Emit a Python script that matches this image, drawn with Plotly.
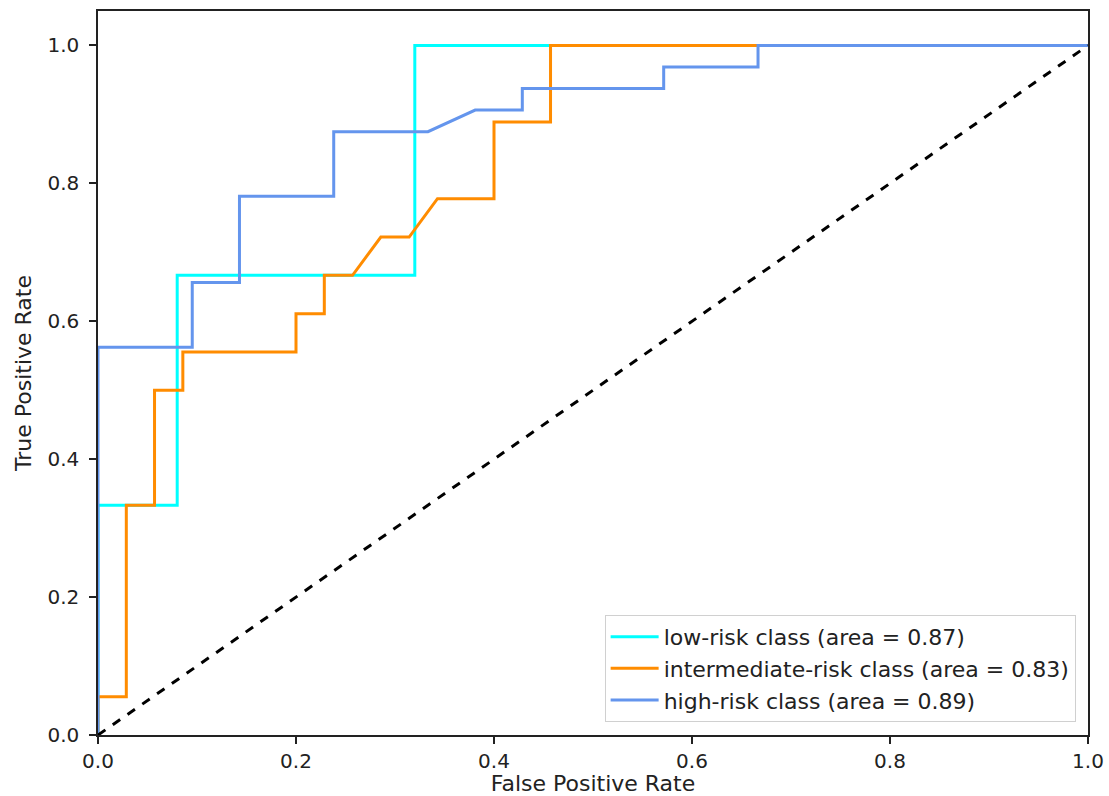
import plotly.graph_objects as go

# Low-risk class ROC
low_fpr = [0.0, 0.0, 0.08, 0.08, 0.32, 0.32, 1.0]
low_tpr = [0.0, 0.3333, 0.3333, 0.6667, 0.6667, 1.0, 1.0]

# Intermediate-risk class ROC
mid_fpr = [0.0, 0.0, 0.0286, 0.0286, 0.0571, 0.0571, 0.0857, 0.0857, 0.2, 0.2,
           0.2286, 0.2286, 0.2571, 0.2857, 0.3143, 0.3429, 0.4, 0.4, 0.4571, 0.4571, 1.0]
mid_tpr = [0.0, 0.0556, 0.0556, 0.3333, 0.3333, 0.5, 0.5, 0.5556, 0.5556, 0.6111,
           0.6111, 0.6667, 0.6667, 0.7222, 0.7222, 0.7778, 0.7778, 0.8889, 0.8889, 1.0, 1.0]

# High-risk class ROC
high_fpr = [0.0, 0.0, 0.0952, 0.0952, 0.1429, 0.1429, 0.2381, 0.2381, 0.3333, 0.381,
            0.4286, 0.4286, 0.5714, 0.5714, 0.6667, 0.6667, 1.0]
high_tpr = [0.0, 0.5625, 0.5625, 0.6563, 0.6563, 0.7813, 0.7813, 0.875, 0.875, 0.9063,
            0.9063, 0.9375, 0.9375, 0.9688, 0.9688, 1.0, 1.0]

chance = [0.0, 1.0]

tick_vals = [0, 0.2, 0.4, 0.6, 0.8, 1.0]
tick_text = ["0.0", "0.2", "0.4", "0.6", "0.8", "1.0"]

names = ["low-risk class (area = 0.87)",
         "intermediate-risk class (area = 0.83)",
         "high-risk class (area = 0.89)"]
colors = ["#00ffff", "#ff8c00", "#6495ed"]

fig = go.Figure()
for fx, ty, nm, c in zip([low_fpr, mid_fpr, high_fpr], [low_tpr, mid_tpr, high_tpr], names, colors):
    fig.add_trace(go.Scatter(x=fx, y=ty, mode="lines", name=nm,
                             line=dict(color=c, width=3)))
fig.add_trace(go.Scatter(x=chance, y=chance, mode="lines", showlegend=False,
                         line=dict(color="black", width=3, dash="dash")))

font = "DejaVu Sans"
txt = "#222222"
axis_common = dict(showgrid=False, zeroline=False, showline=True, linecolor=txt,
                   linewidth=1.5, mirror=True, ticks="outside", ticklen=7, tickwidth=1.5,
                   tickcolor=txt, tickvals=tick_vals, ticktext=tick_text,
                   tickfont=dict(size=20, color=txt))
fig.update_layout(
    width=1109, height=796,
    margin=dict(l=98, r=21, t=11, b=61, autoexpand=False),
    plot_bgcolor="white", paper_bgcolor="white",
    font=dict(family=font, size=20, color=txt),
    showlegend=True,
    legend=dict(x=0.9875, y=0.018, xanchor="right", yanchor="bottom",
                bgcolor="rgba(255,255,255,0.8)", bordercolor="#d0d0d0", borderwidth=1,
                font=dict(family=font, size=22, color=txt),
                tracegroupgap=0, itemwidth=48),
    xaxis=dict(range=[0, 1], title=dict(text="False Positive Rate", standoff=11,
                                        font=dict(size=22, color=txt)), **axis_common),
    yaxis=dict(range=[0, 1.05], ticklabelstandoff=6,
               title=dict(text="True Positive Rate", standoff=10,
                          font=dict(size=22, color=txt)), **axis_common),
)

fig.write_html("out.html", config={"displayModeBar": False},
               post_script="document.body.style.margin='0';")
